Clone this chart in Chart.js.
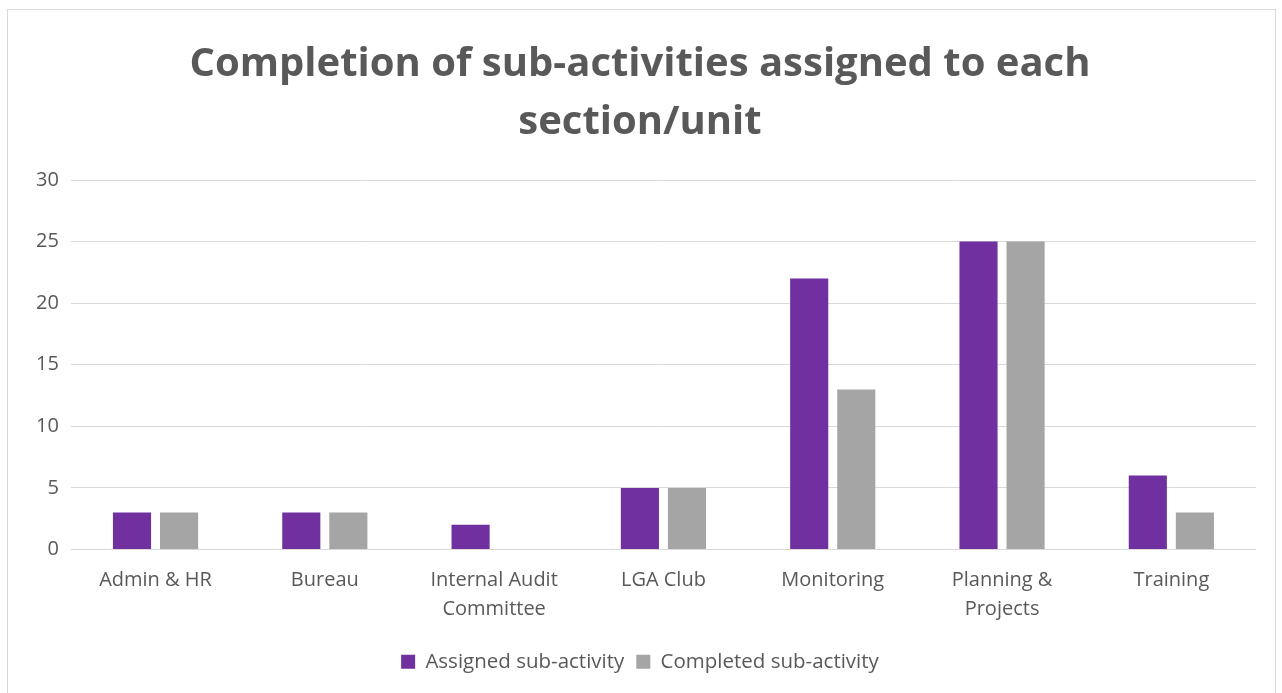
<!DOCTYPE html>
<html>
<head>
<meta charset="utf-8">
<script src="https://cdn.jsdelivr.net/npm/chart.js@4.4.1/dist/chart.umd.min.js"></script>
<style>
  html, body { margin: 0; padding: 0; background: #ffffff; overflow: hidden; }
  #frame { position: absolute; left: 7px; top: 9px; width: 1267px; height: 700px; border: 1px solid #d9d9d9; background: #fff; }
  #wrap { position: absolute; left: 0; top: 0; width: 1267px; height: 684px; }
</style>
</head>
<body>
<div id="frame"><div id="wrap"><canvas id="c"></canvas></div></div>
<script>
const categories = ["Admin & HR", "Bureau", ["Internal Audit", "Committee"], "LGA Club", "Monitoring", ["Planning &", "Projects"], "Training"];
const assigned = [3, 3, 2, 5, 22, 25, 6];
const completed = [3, 3, 0, 5, 13, 25, 3];
const seriesNames = ["Assigned sub-activity", "Completed sub-activity"];
const yTicks = [0, 5, 10, 15, 20, 25, 30];

const FONT = "'Open Sans', 'Liberation Sans', sans-serif";
const TXT = "#595959";

new Chart(document.getElementById('c'), {
  type: 'bar',
  data: {
    labels: categories,
    datasets: [
      { label: seriesNames[0], data: assigned, backgroundColor: '#7030a0', categoryPercentage: 0.556, barPercentage: 0.81 },
      { label: seriesNames[1], data: completed, backgroundColor: '#a5a5a5', categoryPercentage: 0.556, barPercentage: 0.81 }
    ]
  },
  options: {
    responsive: true,
    maintainAspectRatio: false,
    animation: false,
    layout: { padding: { left: 16, right: 19, top: 26, bottom: 12 } },
    plugins: {
      title: {
        display: true,
        text: ["Completion of sub-activities assigned to each", "section/unit"],
        color: TXT,
        font: { family: FONT, size: 40, weight: 'bold', lineHeight: 1.45 },
        padding: { top: 0, bottom: 28 }
      },
      legend: {
        position: 'bottom',
        labels: {
          color: TXT,
          font: { family: FONT, size: 20.5 },
          boxWidth: 14,
          boxHeight: 14,
          padding: 12,
          generateLabels: (chart) => chart.data.datasets.map((ds, i) => ({
            text: ds.label, fillStyle: ds.backgroundColor, strokeStyle: ds.backgroundColor, lineWidth: 0, datasetIndex: i, fontColor: TXT
          }))
        }
      },
      tooltip: { enabled: false }
    },
    scales: {
      x: {
        grid: { display: false, drawTicks: false },
        border: { display: false },
        ticks: { color: TXT, font: { family: FONT, size: 20, lineHeight: 1.45 }, padding: 16, maxRotation: 0, autoSkip: false }
      },
      y: {
        min: 0, max: 30,
        afterBuildTicks: (axis) => { axis.ticks = yTicks.map(v => ({ value: v })); },
        grid: { color: '#d9d9d9', lineWidth: 1, drawTicks: false },
        border: { display: false },
        ticks: { color: TXT, font: { family: FONT, size: 20 }, padding: 12 }
      }
    }
  }
});
</script>
</body>
</html>
